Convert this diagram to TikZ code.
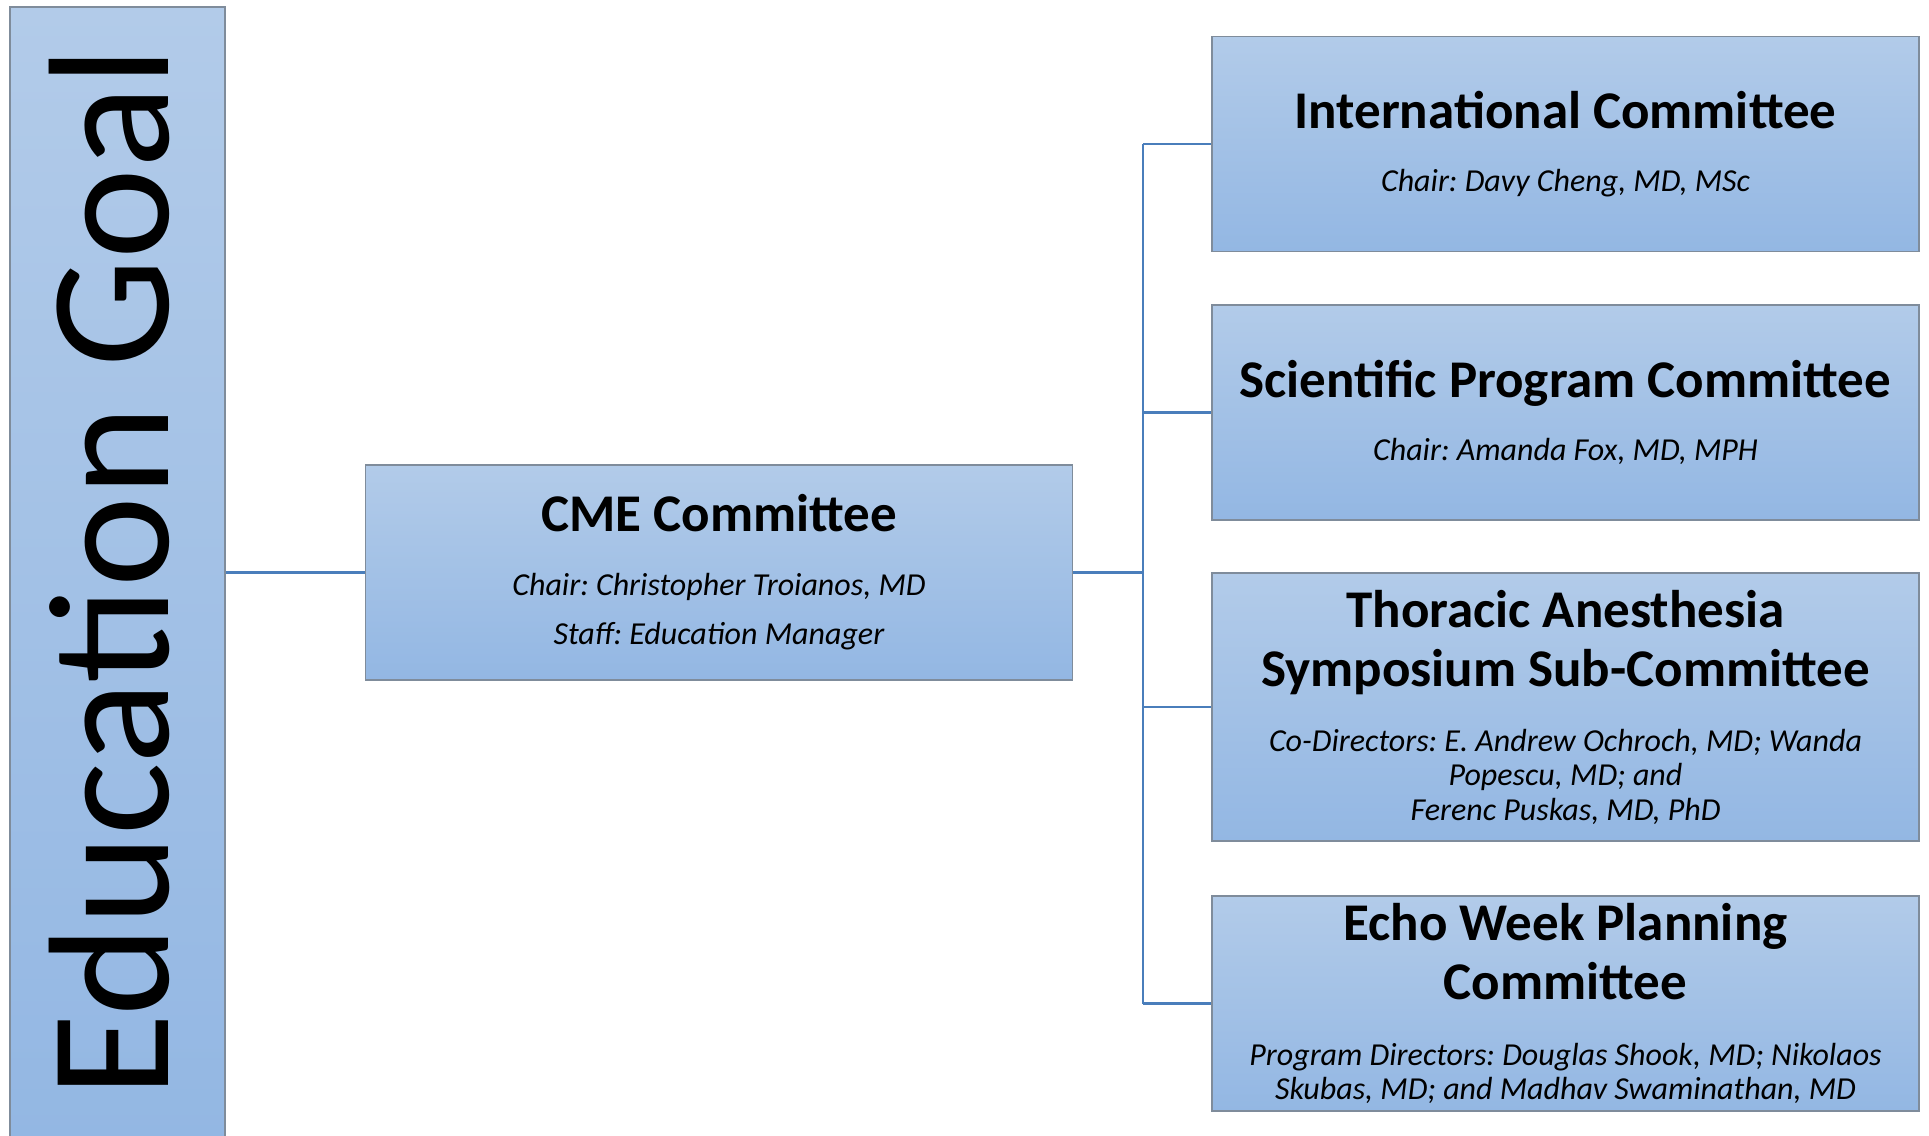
\documentclass[tikz,border=0pt]{standalone}
\usepackage{fontspec}
\setmainfont{Carlito}
\definecolor{BoxTop}{HTML}{B2CBE9}
\definecolor{BoxBottom}{HTML}{93B7E3}
\definecolor{BoxBorder}{HTML}{7F8C9B}
\definecolor{LinkLine}{HTML}{4A7EBB}
\newcommand{\cmtitle}[1]{{\fontsize{53}{59}\selectfont\bfseries
    \spaceskip=\fontdimen2\font\xspaceskip=\fontdimen2\font\relax #1\par}}
\newcommand{\cmnames}[1]{{\fontsize{32}{34.5}\selectfont\itshape
    \spaceskip=\fontdimen2\font\xspaceskip=\fontdimen2\font\relax #1\par}}
\tikzset{
    committee/.style={
        draw=BoxBorder, line width=1.5pt,
        top color=BoxTop, bottom color=BoxBottom,
        minimum width=707pt, minimum height=215pt,
        text width=700pt, align=center, inner sep=0pt
    },
    goal box/.style={
        draw=BoxBorder, line width=1.5pt,
        top color=BoxTop, bottom color=BoxBottom,
        minimum width=215pt, minimum height=1136pt, inner sep=0pt
    },
    goal text/.style={
        font=\fontsize{172}{200}\selectfont, inner sep=0pt
    },
    link/.style={draw=LinkLine, line width=2.5pt}
}

\begin{document}
\begin{tikzpicture}[x=1pt, y=-1pt]

\useasboundingbox (0,0) rectangle (1929,1135);

% Columna del objetivo
\node[goal box] (goal) at (117.5, 575) {};
\node[goal text, rotate=90, anchor=base] (goaltitle) at (168.5, 572) {Education Goal};

% Comite central
\node[committee] (cme) at (719, 572.5) {%
    \cmtitle{CME Committee}\vspace{29.5pt}%
    \cmnames{Chair: Christopher Troianos, MD}\vspace{14.5pt}%
    \cmnames{Staff: Education Manager}};

% Subcomites
\node[committee] (intl) at (1565.5, 144) {%
    \cmtitle{International Committee}\vspace{28pt}%
    \cmnames{Chair: Davy Cheng, MD, MSc}};
\node[committee] (sci) at (1565.5, 412.5) {%
    \cmtitle{Scientific Program Committee}\vspace{28pt}%
    \cmnames{Chair: Amanda Fox, MD, MPH}};
\node[committee, minimum height=268pt] (tas) at (1565.5, 707) {%
    \cmtitle{Thoracic Anesthesia\\Symposium Sub-Committee}\vspace{30.5pt}%
    \cmnames{Co-Directors: E. Andrew Ochroch, MD; Wanda\\Popescu, MD; and\\Ferenc Puskas, MD, PhD}};
\node[committee] (echo) at (1565.5, 1003.5) {%
    \cmtitle{Echo Week Planning\\Committee}\vspace{31.5pt}%
    \cmnames{Program Directors: Douglas Shook, MD; Nikolaos\\Skubas, MD; and Madhav Swaminathan, MD}};

% Conectores
\coordinate (trunk) at (1143, 572.5);
\draw[link] (goal.east |- cme.west) -- (cme.west);
\draw[link] (cme.east) -- (trunk);
\draw[link] (trunk |- intl.west) -- (trunk |- echo.west);
\draw[link] (trunk |- intl.west) -- (intl.west);
\draw[link] (trunk |- sci.west) -- (sci.west);
\draw[link] (trunk |- tas.west) -- (tas.west);
\draw[link] (trunk |- echo.west) -- (echo.west);

\end{tikzpicture}
\end{document}
